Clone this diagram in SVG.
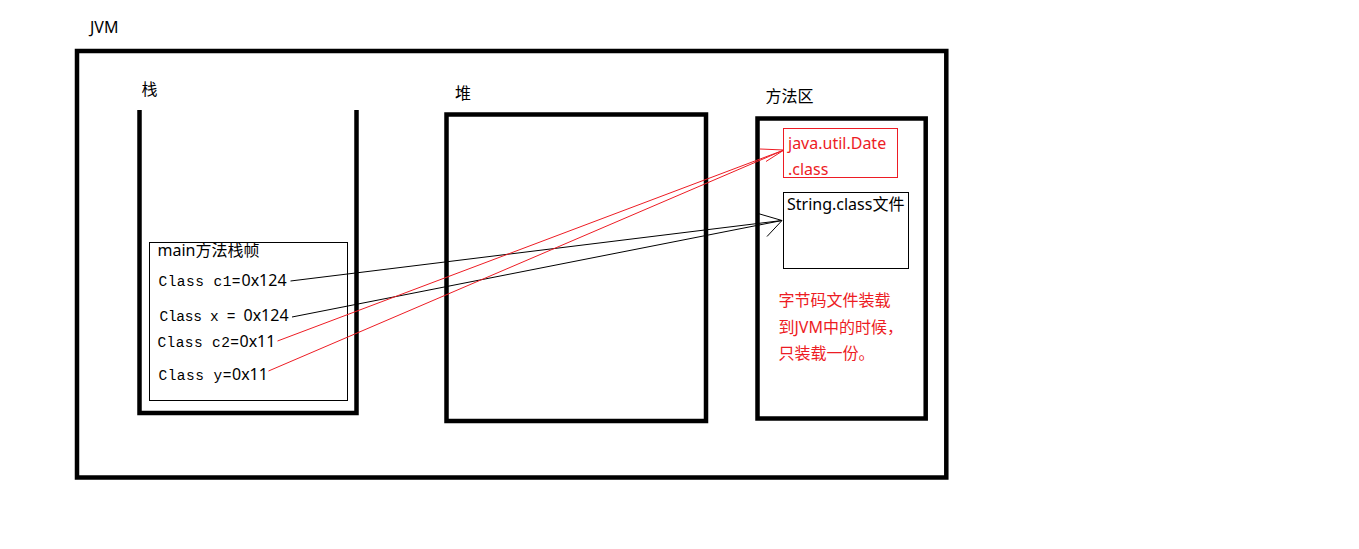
<svg xmlns="http://www.w3.org/2000/svg" width="1359" height="549" viewBox="0 0 1359 549">
<style>
.bg{fill:#ffffff}
.thick{fill:none;stroke:#000000;stroke-width:4.5}
.thin{fill:none;stroke:#000000;stroke-width:1}
.redbox{fill:none;stroke:#ED1C24;stroke-width:1}
.lbl{font-family:"Noto Sans","Noto Sans CJK SC",sans-serif;font-size:16px;fill:#000000}
.red{fill:#ED1C24}
.mono{font-family:"Liberation Mono","Noto Sans CJK SC",monospace;font-size:14.5px}
.num{font-family:"Noto Sans",sans-serif;font-size:16px}
.blk{fill:none;stroke:#000000;stroke-width:1}
.rln{fill:none;stroke:#ED1C24;stroke-width:1}
</style>
<rect class="bg" x="0" y="0" width="1359" height="549"/>
<g id="jvm">
  <rect class="thick" x="77" y="51" width="869.3" height="426.5"/>
  <text class="lbl" x="90" y="33">JVM</text>
</g>
<g id="stack">
  <path class="thick" d="M139.5,110 V413 H356.5 V110"/>
  <text class="lbl" x="141.5" y="95">栈</text>
</g>
<g id="frame">
  <rect class="thin" x="149.5" y="242.5" width="198" height="158"/>
  <text class="lbl" x="157.5" y="256">main方法栈帧</text>
  <text class="lbl" y="286"><tspan class="mono" x="158.5" textLength="82">Class c1=</tspan><tspan class="num" x="241.5">0x124</tspan></text>
  <text class="lbl" y="320.5"><tspan class="mono" x="159.5" textLength="76">Class x =</tspan><tspan class="num" x="243.5">0x124</tspan></text>
  <text class="lbl" y="346.5"><tspan class="mono" x="157.5" textLength="81.5">Class c2=</tspan><tspan class="num" x="239.5">0x11</tspan></text>
  <text class="lbl" y="379.5"><tspan class="mono" x="158.5" textLength="73">Class y=</tspan><tspan class="num" x="232">0x11</tspan></text>
</g>
<g id="heap">
  <rect class="thick" x="446.5" y="114.5" width="259.5" height="306.5"/>
  <text class="lbl" x="455" y="99">堆</text>
</g>
<g id="method-area">
  <rect class="thick" x="757.5" y="118.5" width="168.2" height="300"/>
  <text class="lbl" x="765.5" y="101.5">方法区</text>
</g>
<g id="date-class">
  <rect class="redbox" x="783.5" y="128.5" width="114" height="49"/>
  <text class="lbl red" x="788" y="148.5">java.util.Date</text>
  <text class="lbl red" x="788" y="175">.class</text>
</g>
<g id="string-class">
  <rect class="thin" x="783.5" y="192.5" width="125" height="76"/>
  <text class="lbl" x="787" y="209.5">String.class文件</text>
</g>
<g id="note">
  <text class="lbl red" x="778.5" y="305.5">字节码文件装载</text>
  <text class="lbl red" x="778.5" y="332.5">到JVM中的时候，</text>
  <text class="lbl red" x="778.5" y="359">只装载一份。</text>
</g>
<g id="connectors">
  <path class="blk" d="M290.5,281 L782,220.5"/>
  <path class="blk" d="M292,317 L782,220.5"/>
  <path class="blk" d="M758,213.5 L782,220.5 L767,236.5"/>
  <path class="rln" d="M277.5,341 L784,150"/>
  <path class="rln" d="M268.5,371 L784,150"/>
  <path class="rln" d="M760,149 L784,150 L766,161.5"/>
</g>
</svg>
